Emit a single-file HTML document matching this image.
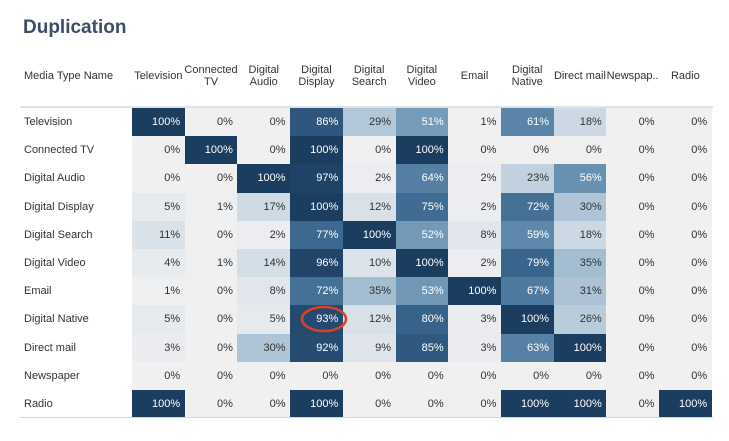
<!DOCTYPE html>
<html><head><meta charset="utf-8"><style>
body{margin:0;width:729px;height:441px;background:#fff;font-family:"Liberation Sans",sans-serif;position:relative;overflow:hidden}
.a{position:absolute}
.t{left:23px;top:17px;font-size:19px;font-weight:bold;color:#3b4d68}
.h{font-size:11px;color:#333;text-align:center;line-height:12px;display:flex;align-items:center;justify-content:center;top:60px;height:32px}
.c{font-size:11px;text-align:right;box-sizing:border-box;padding-right:5px;line-height:28px;height:28.2px}
.l{left:24px;font-size:11px;color:#333;line-height:28px}
</style></head><body>
<div class="a t">Duplication</div>
<div class="a h" style="left:24px;justify-content:flex-start;width:110px">Media Type Name</div>
<div id="g"></div>
<div class="a" style="left:20px;top:106px;width:693px;height:2px;background:#e2e2e2"></div>
<div class="a" style="left:20px;top:417px;width:693px;height:1px;background:#d6d6d6"></div>
<svg class="a" style="left:0;top:0" width="729" height="441"><ellipse cx="324" cy="319" rx="22" ry="12" fill="none" stroke="#d9412b" stroke-width="2.5"/></svg>
<script>
var cols=["Television","Connected<br>TV","Digital<br>Audio","Digital<br>Display","Digital<br>Search","Digital<br>Video","Email","Digital<br>Native","Direct mail","Newspap..","Radio"];
var rows=["Television","Connected TV","Digital Audio","Digital Display","Digital Search","Digital Video","Email","Digital Native","Direct mail","Newspaper","Radio"];
var d=[[100,0,0,86,29,51,1,61,18,0,0],[0,100,0,100,0,100,0,0,0,0,0],[0,0,100,97,2,64,2,23,56,0,0],[5,1,17,100,12,75,2,72,30,0,0],[11,0,2,77,100,52,8,59,18,0,0],[4,1,14,96,10,100,2,79,35,0,0],[1,0,8,72,35,53,100,67,31,0,0],[5,0,5,93,12,80,3,100,26,0,0],[3,0,30,92,9,85,3,63,100,0,0],[0,0,0,0,0,0,0,0,0,0,0],[100,0,0,100,0,0,0,100,100,0,100]];
var st=[[240,240,241],[200,214,226],[150,180,203],[92,135,170],[55,98,138],[27,61,96]];
function col(v){var p=v/100*5,i=Math.min(4,Math.floor(p)),f=p-i,a=st[i],b=st[i+1];return "rgb("+[0,1,2].map(k=>Math.round(a[k]+(b[k]-a[k])*f)).join(",")+")";}
var h="",x0=132,w=52.7,y0=108,rh=28.2;
cols.forEach((c,j)=>{h+='<div class="a h" style="left:'+(x0+j*w-2)+'px;width:'+(w+4)+'px">'+c+'</div>';});
rows.forEach((r,i)=>{h+='<div class="a l" style="top:'+(y0+i*rh)+'px">'+r+'</div>';
d[i].forEach((v,j)=>{h+='<div class="a c" style="left:'+(x0+j*w)+'px;top:'+(y0+i*rh)+'px;width:'+(w+0.5)+'px;background:'+col(v)+';color:'+(v>=50?'#fff':'#333')+'">'+v+'%</div>';});});
document.getElementById("g").innerHTML=h;
</script>
</body></html>
